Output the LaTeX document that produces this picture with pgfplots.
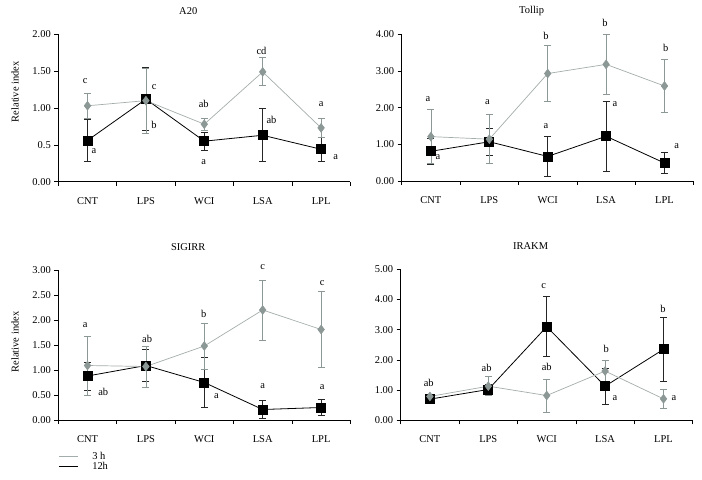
\documentclass[border=0pt]{standalone}
\usepackage{fontspec}
\setmainfont{Liberation Serif}
\usepackage{pgfplots}
\pgfplotsset{compat=1.18}

\definecolor{gmark}{HTML}{8C9896}
\definecolor{gline}{HTML}{A3ADAB}

\newcommand\fs{\fontsize{10.5}{12.5}\selectfont}
\tikzset{lab/.style={font=\fs, inner sep=0pt}}

\pgfplotsset{
  panel/.style={
    scale only axis, width=292bp, clip=false,
    xmin=0, xmax=5,
    axis x line*=bottom, axis y line*=left,
    xtick={0,...,5}, xticklabels={CNT,LPS,WCI,LSA,LPL},
    x tick label as interval,
    tick align=outside, major tick length=4bp,
    tick style={black, line width=0.6pt},
    axis line style={line width=0.6pt},
    ymin=0,
    tick label style={font=\fs},
    xticklabel style={yshift=-8bp},
    title style={at={(0.445,1)}, anchor=center, yshift=17bp, font=\fs},
    ylabel style={font=\fs},
  },
  grayser/.style={color=gline, line width=0.7pt, mark=diamond*, mark size=4.3bp,
    mark options={fill=gmark, draw=gmark},
    error bars/y dir=both, error bars/y explicit,
    error bars/error bar style={gmark, line width=0.8pt},
    error bars/error mark options={gmark, mark size=3.5bp, line width=0.8pt, rotate=90}},
  blackser/.style={color=black, line width=0.8pt, mark=square*, mark size=4.5bp,
    mark options={fill=black},
    error bars/y dir=both, error bars/y explicit,
    error bars/error bar style={black!85, line width=0.8pt},
    error bars/error mark options={black!85, mark size=3.5bp, line width=0.8pt, rotate=90}},
}

\begin{document}
\begin{tikzpicture}
\path[use as bounding box] (0bp,0bp) rectangle (702bp,480bp);

% ---------------- A20
\begin{axis}[panel, at={(58.3bp,298.3bp)}, anchor=south west, height=147.4bp,
  ymax=2, ytick={0,0.5,1,1.5,2}, yticklabels={0.00,0.5,1.00,1.50,2.00},
  title={A20}, ylabel={Relative index},
  ylabel style={at={(axis description cs:-0.148,0.61)}, anchor=center}]
\addplot[blackser] table[x=x,y=y,y error=e] {
x y e
0.5 0.56 0.28
1.5 1.12 0.43
2.5 0.55 0.12
3.5 0.63 0.36
4.5 0.44 0.16
};
\addplot[grayser] table[x=x,y=y,y error=e] {
x y e
0.5 1.03 0.17
1.5 1.10 0.44
2.5 0.78 0.08
3.5 1.49 0.19
4.5 0.73 0.13
};
\node[lab] at (axis cs:0.46,1.37) {c};
\node[lab] at (axis cs:0.61,0.42) {a};
\node[lab] at (axis cs:1.64,1.29) {c};
\node[lab] at (axis cs:1.64,0.77) {b};
\node[lab] at (axis cs:2.49,1.05) {ab};
\node[lab] at (axis cs:2.49,0.26) {a};
\node[lab] at (axis cs:3.48,1.78) {cd};
\node[lab] at (axis cs:3.65,0.84) {ab};
\node[lab] at (axis cs:4.50,1.05) {a};
\node[lab] at (axis cs:4.75,0.34) {a};
\end{axis}

% ---------------- Tollip
\begin{axis}[panel, at={(401.7bp,299bp)}, anchor=south west, height=146.7bp,
  ymax=4, ytick={0,1,2,3,4}, yticklabels={0.00,1.00,2.00,3.00,4.00},
  title={Tollip}]
\addplot[blackser] table[x=x,y=y,y error=e] {
x y e
0.5 0.81 0.36
1.5 1.07 0.36
2.5 0.67 0.55
3.5 1.22 0.95
4.5 0.49 0.28
};
\addplot[grayser] table[x=x,y=y,y error=e] {
x y e
0.5 1.21 0.74
1.5 1.14 0.67
2.5 2.93 0.76
3.5 3.18 0.82
4.5 2.59 0.72
};
\node[lab] at (axis cs:0.45,2.24) {a};
\node[lab] at (axis cs:0.62,0.65) {a};
\node[lab] at (axis cs:1.47,2.16) {a};
\node[lab] at (axis cs:2.47,3.96) {b};
\node[lab] at (axis cs:2.47,1.51) {a};
\node[lab] at (axis cs:3.48,4.30) {b};
\node[lab] at (axis cs:3.65,2.09) {a};
\node[lab] at (axis cs:4.52,3.64) {b};
\node[lab] at (axis cs:4.71,0.94) {a};
\end{axis}

% ---------------- SIGIRR
\begin{axis}[panel, at={(58.3bp,60bp)}, anchor=south west, height=150bp,
  ymax=3, ytick={0,0.5,...,3}, yticklabels={0.00,0.50,1.00,1.50,2.00,2.50,3.00},
  title={SIGIRR}, ylabel={Relative index},
  ylabel style={at={(axis description cs:-0.148,0.52)}, anchor=center},
  legend style={at={(axis description cs:0,-0.2)}, anchor=north west,
    draw=none, fill=none, inner sep=0pt, row sep=-2.5bp,
    font=\fs},
  legend cell align=left,
  legend image code/.code={\draw[#1] (0bp,0bp) -- (19bp,0bp);}]
\addlegendimage{gline, line width=0.7pt}
\addlegendentry{\hspace{12bp}3 h}
\addlegendimage{black, line width=0.8pt}
\addlegendentry{\hspace{12bp}12h}
\addplot[forget plot, blackser] table[x=x,y=y,y error=e] {
x y e
0.5 0.88 0.28
1.5 1.09 0.32
2.5 0.75 0.50
3.5 0.21 0.18
4.5 0.25 0.16
};
\addplot[forget plot, grayser] table[x=x,y=y,y error=e] {
x y e
0.5 1.09 0.59
1.5 1.07 0.41
2.5 1.48 0.46
3.5 2.20 0.60
4.5 1.81 0.76
};
\node[lab] at (axis cs:0.46,1.90) {a};
\node[lab] at (axis cs:0.77,0.57) {ab};
\node[lab] at (axis cs:1.52,1.63) {ab};
\node[lab] at (axis cs:2.49,2.13) {b};
\node[lab] at (axis cs:2.71,0.47) {a};
\node[lab] at (axis cs:3.50,3.05) {c};
\node[lab] at (axis cs:3.50,0.67) {a};
\node[lab] at (axis cs:4.52,2.73) {c};
\node[lab] at (axis cs:4.52,0.65) {a};
\end{axis}

% ---------------- IRAKM
\begin{axis}[panel, at={(400.7bp,59.7bp)}, anchor=south west, height=151bp,
  ymax=5, ytick={0,1,2,3,4,5}, yticklabels={0.00,1.00,2.00,3.00,4.00,5.00},
  title={IRAKM}]
\addplot[blackser] table[x=x,y=y,y error=e] {
x y e
0.5 0.70 0.08
1.5 1.02 0.18
2.5 3.10 1.00
3.5 1.13 0.60
4.5 2.35 1.05
};
\addplot[grayser] table[x=x,y=y,y error=e] {
x y e
0.5 0.79 0.08
1.5 1.13 0.31
2.5 0.82 0.55
3.5 1.63 0.34
4.5 0.71 0.30
};
\node[lab] at (axis cs:0.48,1.25) {ab};
\node[lab] at (axis cs:1.47,1.74) {ab};
\node[lab] at (axis cs:2.45,4.43) {c};
\node[lab] at (axis cs:2.50,1.78) {ab};
\node[lab] at (axis cs:3.52,2.38) {b};
\node[lab] at (axis cs:3.67,0.73) {a};
\node[lab] at (axis cs:4.49,3.69) {b};
\node[lab] at (axis cs:4.68,0.73) {a};
\end{axis}
\end{tikzpicture}
\end{document}
